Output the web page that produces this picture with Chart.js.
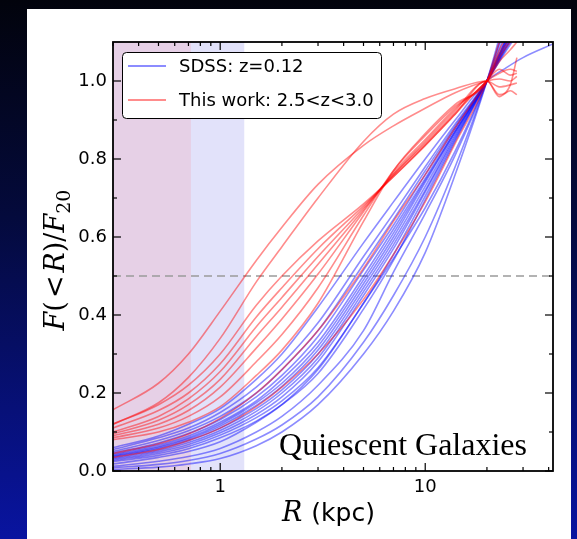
<!DOCTYPE html>
<html>
<head>
<meta charset="utf-8">
<script src="https://cdn.jsdelivr.net/npm/chart.js@4.4.1/dist/chart.umd.min.js"></script>
<style>
html, body {
    margin: 0;
    padding: 0;
    width: 577px;
    height: 539px;
    overflow: hidden;
    background: linear-gradient(to bottom, #02030c 0%, #040a3c 40%, #0914a0 100%);
}
#panel {
    position: absolute;
    left: 27px;
    top: 9px;
    width: 544px;
    height: 530px;
    background: #fff;
}
</style>
</head>
<body>
<div id="panel"><canvas id="cumulative-chart" width="544" height="530"></canvas></div>
<script>
const radiusSdss = [0.3, 0.5, 0.7, 1, 1.5, 2, 3, 5, 7, 10, 14, 20, 25, 30, 42];
const radiusThisWork = [0.3, 0.5, 0.7, 1, 1.5, 2, 3, 5, 7, 10, 14, 20, 23, 26, 28];

// F(<R)/F20, SDSS z=0.12
const sdssProfiles = [
    [0.06, 0.09, 0.12, 0.16, 0.235, 0.3, 0.42, 0.585, 0.69, 0.8, 0.9, 1.0, 1.035, 1.06, 1.095],
    [0.055, 0.085, 0.11, 0.15, 0.215, 0.275, 0.38, 0.55, 0.66, 0.78, 0.89, 1.0, 1.08, 1.14, 1.22],
    [0.05, 0.078, 0.103, 0.14, 0.2, 0.26, 0.36, 0.53, 0.645, 0.77, 0.885, 1.0, 1.085, 1.15, 1.24],
    [0.046, 0.072, 0.096, 0.132, 0.19, 0.245, 0.345, 0.515, 0.63, 0.76, 0.88, 1.0, 1.09, 1.16, 1.25],
    [0.043, 0.067, 0.09, 0.125, 0.18, 0.235, 0.33, 0.5, 0.62, 0.75, 0.875, 1.0, 1.09, 1.16, 1.26],
    [0.04, 0.063, 0.085, 0.12, 0.175, 0.225, 0.32, 0.49, 0.61, 0.745, 0.87, 1.0, 1.095, 1.17, 1.27],
    [0.038, 0.06, 0.082, 0.115, 0.168, 0.217, 0.31, 0.48, 0.6, 0.74, 0.87, 1.0, 1.1, 1.18, 1.28],
    [0.036, 0.057, 0.078, 0.11, 0.16, 0.208, 0.3, 0.47, 0.59, 0.73, 0.865, 1.0, 1.1, 1.18, 1.29],
    [0.033, 0.053, 0.073, 0.104, 0.153, 0.2, 0.29, 0.46, 0.58, 0.72, 0.86, 1.0, 1.105, 1.19, 1.3],
    [0.03, 0.049, 0.068, 0.098, 0.145, 0.19, 0.28, 0.45, 0.57, 0.715, 0.855, 1.0, 1.11, 1.2, 1.31],
    [0.027, 0.045, 0.063, 0.092, 0.137, 0.18, 0.265, 0.43, 0.555, 0.705, 0.85, 1.0, 1.11, 1.2, 1.32],
    [0.024, 0.04, 0.057, 0.085, 0.128, 0.17, 0.25, 0.415, 0.54, 0.695, 0.845, 1.0, 1.115, 1.21, 1.33],
    [0.018, 0.035, 0.05, 0.075, 0.125, 0.17, 0.26, 0.43, 0.545, 0.675, 0.82, 1.0, 1.13, 1.23, 1.38],
    [0.012, 0.025, 0.037, 0.058, 0.1, 0.14, 0.22, 0.36, 0.51, 0.66, 0.81, 1.0, 1.15, 1.27, 1.42],
    [0.008, 0.017, 0.027, 0.045, 0.082, 0.118, 0.19, 0.33, 0.45, 0.6, 0.78, 1.0, 1.16, 1.29, 1.45],
    [0.004, 0.01, 0.018, 0.032, 0.065, 0.1, 0.17, 0.3, 0.41, 0.56, 0.76, 1.0, 1.18, 1.32, 1.5],
];

// F(<R)/F20, this work 2.5<z<3.0
const thisWorkProfiles = [
    [0.157, 0.225, 0.3, 0.41, 0.54, 0.625, 0.735, 0.835, 0.885, 0.93, 0.97, 1.0, 1.005, 1.0, 1.012],
    [0.12, 0.175, 0.24, 0.34, 0.485, 0.575, 0.7, 0.845, 0.915, 0.955, 0.98, 1.0, 0.985, 0.99, 0.995],
    [0.12, 0.17, 0.22, 0.3, 0.425, 0.5, 0.59, 0.685, 0.755, 0.835, 0.915, 1.0, 1.02, 1.03, 1.025],
    [0.11, 0.155, 0.2, 0.275, 0.395, 0.47, 0.57, 0.68, 0.755, 0.835, 0.915, 1.0, 0.96, 0.975, 0.965],
    [0.1, 0.14, 0.185, 0.255, 0.37, 0.445, 0.55, 0.675, 0.76, 0.84, 0.92, 1.0, 1.03, 1.015, 1.02],
    [0.095, 0.13, 0.17, 0.235, 0.345, 0.42, 0.53, 0.67, 0.76, 0.845, 0.925, 1.0, 0.965, 0.99, 1.06],
    [0.09, 0.12, 0.155, 0.215, 0.315, 0.39, 0.505, 0.665, 0.765, 0.85, 0.93, 1.0, 1.05, 1.08, 1.1],
    [0.085, 0.11, 0.14, 0.19, 0.28, 0.35, 0.47, 0.655, 0.77, 0.86, 0.935, 1.0, 1.07, 1.11, 1.14],
    [0.08, 0.1, 0.125, 0.165, 0.245, 0.31, 0.43, 0.64, 0.77, 0.865, 0.94, 1.0, 1.08, 1.13, 1.16],
    [0.045, 0.07, 0.095, 0.135, 0.2, 0.26, 0.36, 0.52, 0.64, 0.76, 0.88, 1.0, 1.06, 1.1, 1.12],
    [0.035, 0.055, 0.078, 0.11, 0.165, 0.215, 0.3, 0.44, 0.555, 0.69, 0.84, 1.0, 1.1, 1.17, 1.22],
];

const seriesLabels = ['SDSS: z=0.12', 'This work: 2.5<z<3.0'];
const psfLimits = [0.72, 1.31]; // kpc, shaded bands (this work, SDSS)
const halfLevel = 0.5;
const xRange = [0.3, 42];
const yRange = [0, 1.1];
const xMajorTicks = [1, 10];
const xMinorTicks = [0.3, 0.4, 0.5, 0.6, 0.7, 0.8, 0.9, 2, 3, 4, 5, 6, 7, 8, 9, 20, 30, 40];
const yMajorTicks = [0, 0.2, 0.4, 0.6, 0.8, 1.0];
const yMinorTicks = [0.1, 0.3, 0.5, 0.7, 0.9];

const BLUE = 'rgba(0, 0, 255, 0.45)';
const RED = 'rgba(255, 0, 0, 0.45)';

const toPoints = (radii, values) => values.map((v, i) => ({ x: radii[i], y: v }));

const buildDatasets = () => {
    const sets = [];
    thisWorkProfiles.forEach((row) => {
        sets.push({ data: toPoints(radiusThisWork, row), borderColor: RED, borderWidth: 1.6 });
    });
    sdssProfiles.forEach((row) => {
        sets.push({ data: toPoints(radiusSdss, row), borderColor: BLUE, borderWidth: 1.6 });
    });
    sets.push({
        data: [{ x: xRange[0], y: halfLevel }, { x: xRange[1], y: halfLevel }],
        borderColor: '#9a9a9a',
        borderWidth: 1.5,
        borderDash: [8, 5],
        cubicInterpolationMode: 'default',
        tension: 0,
    });
    return sets;
};

const bandsPlugin = {
    id: 'bands',
    beforeDatasetsDraw(chart) {
        const { ctx, chartArea: a, scales: { x } } = chart;
        ctx.save();
        ctx.fillStyle = '#e2e2fa';
        ctx.fillRect(a.left, a.top, x.getPixelForValue(psfLimits[1]) - a.left, a.bottom - a.top);
        ctx.fillStyle = '#e6d0e6';
        ctx.fillRect(a.left, a.top, x.getPixelForValue(psfLimits[0]) - a.left, a.bottom - a.top);
        ctx.restore();
    },
};

const framePlugin = {
    id: 'frame',
    afterDatasetsDraw(chart) {
        const { ctx, chartArea: a, scales: { x, y } } = chart;
        ctx.save();
        ctx.strokeStyle = '#000';
        ctx.lineWidth = 1.2;
        const tick = (x0, y0, x1, y1) => {
            ctx.beginPath();
            ctx.moveTo(x0, y0);
            ctx.lineTo(x1, y1);
            ctx.stroke();
        };
        xMajorTicks.forEach((v) => {
            const px = x.getPixelForValue(v);
            tick(px, a.bottom, px, a.bottom - 8);
            tick(px, a.top, px, a.top + 8);
        });
        xMinorTicks.forEach((v) => {
            const px = x.getPixelForValue(v);
            tick(px, a.bottom, px, a.bottom - 4);
            tick(px, a.top, px, a.top + 4);
        });
        yMajorTicks.forEach((v) => {
            const py = y.getPixelForValue(v);
            tick(a.left, py, a.left + 8, py);
            tick(a.right, py, a.right - 8, py);
        });
        yMinorTicks.forEach((v) => {
            const py = y.getPixelForValue(v);
            tick(a.left, py, a.left + 4, py);
            tick(a.right, py, a.right - 4, py);
        });
        ctx.lineWidth = 1.8;
        ctx.strokeRect(a.left, a.top, a.right - a.left, a.bottom - a.top);
        ctx.restore();
    },
};

const drawPieces = (ctx, pieces, startX, baseY) => {
    let cx = startX;
    pieces.forEach((p) => {
        ctx.font = p.font;
        ctx.fillText(p.text, cx, baseY + (p.dy || 0));
        cx += ctx.measureText(p.text).width + (p.gap || 0);
    });
};

const widthOf = (ctx, pieces) => pieces.reduce((w, p) => {
    ctx.font = p.font;
    return w + ctx.measureText(p.text).width + (p.gap || 0);
}, 0);

const textPlugin = {
    id: 'annotations',
    afterDraw(chart) {
        const { ctx } = chart;
        ctx.save();
        ctx.fillStyle = '#000';
        ctx.textBaseline = 'alphabetic';
        ctx.textAlign = 'left';

        // legend
        ctx.fillStyle = '#fff';
        ctx.strokeStyle = '#000';
        ctx.lineWidth = 1;
        ctx.beginPath();
        ctx.roundRect(95.5, 43.5, 259, 66, 4);
        ctx.fill();
        ctx.stroke();
        [BLUE, RED].forEach((c, i) => {
            const ly = 57 + i * 34;
            ctx.strokeStyle = c;
            ctx.lineWidth = 1.8;
            ctx.beginPath();
            ctx.moveTo(101, ly);
            ctx.lineTo(139, ly);
            ctx.stroke();
            ctx.fillStyle = '#000';
            ctx.font = '18px "DejaVu Sans"';
            ctx.textBaseline = 'middle';
            ctx.fillText(seriesLabels[i], 152, ly + 1);
        });

        // panel label
        ctx.textBaseline = 'alphabetic';
        ctx.textAlign = 'right';
        ctx.font = '32px "Liberation Serif"';
        ctx.fillText('Quiescent Galaxies', 500, 446);

        // x axis title
        ctx.textAlign = 'left';
        drawPieces(ctx, [
            { text: 'R', font: 'italic 27px "DejaVu Serif"', gap: 9 },
            { text: '(kpc)', font: '25px "DejaVu Sans"' },
        ], 255, 512);

        // y axis title
        const yPieces = [
            { text: 'F', font: 'italic 27px "DejaVu Serif"' },
            { text: '(', font: '27px "DejaVu Serif"', gap: 3 },
            { text: '<', font: '27px "DejaVu Serif"', gap: 3 },
            { text: 'R', font: 'italic 27px "DejaVu Serif"' },
            { text: ')/', font: '27px "DejaVu Serif"' },
            { text: 'F', font: 'italic 27px "DejaVu Serif"' },
            { text: '20', font: '19px "DejaVu Serif"', dy: 6 },
        ];
        ctx.translate(37, 251);
        ctx.rotate(-Math.PI / 2);
        drawPieces(ctx, yPieces, -widthOf(ctx, yPieces) / 2, 0);
        ctx.restore();
    },
};

const buildConfig = () => ({
    type: 'line',
    data: { datasets: buildDatasets() },
    options: {
        responsive: false,
        animation: false,
        events: [],
        layout: { padding: { top: 33, right: 18, left: 0, bottom: 0 } },
        elements: {
            point: { radius: 0 },
            line: { cubicInterpolationMode: 'monotone', fill: false },
        },
        plugins: {
            legend: { display: false },
            tooltip: { enabled: false },
        },
        scales: {
            x: {
                type: 'logarithmic',
                min: xRange[0],
                max: xRange[1],
                grid: { display: false, drawTicks: false },
                border: { display: false },
                afterBuildTicks: (scale) => {
                    scale.ticks = xMajorTicks.map((v) => ({ value: v }));
                },
                afterFit: (scale) => {
                    scale.height = 68;
                },
                ticks: {
                    autoSkip: false,
                    maxRotation: 0,
                    padding: 6,
                    color: '#000',
                    font: { family: 'DejaVu Sans', size: 18 },
                    callback: (value) => String(value),
                },
            },
            y: {
                min: yRange[0],
                max: yRange[1],
                grid: { display: false, drawTicks: false },
                border: { display: false },
                afterBuildTicks: (scale) => {
                    scale.ticks = yMajorTicks.map((v) => ({ value: v }));
                },
                afterFit: (scale) => {
                    scale.width = 86;
                },
                ticks: {
                    padding: 6,
                    color: '#000',
                    font: { family: 'DejaVu Sans', size: 18 },
                    callback: (value) => Number(value).toFixed(1),
                },
            },
        },
    },
    plugins: [bandsPlugin, framePlugin, textPlugin],
});

(function () {
    const el = document.getElementById('cumulative-chart');
    new Chart(el, buildConfig());
})();
</script>
</body>
</html>
